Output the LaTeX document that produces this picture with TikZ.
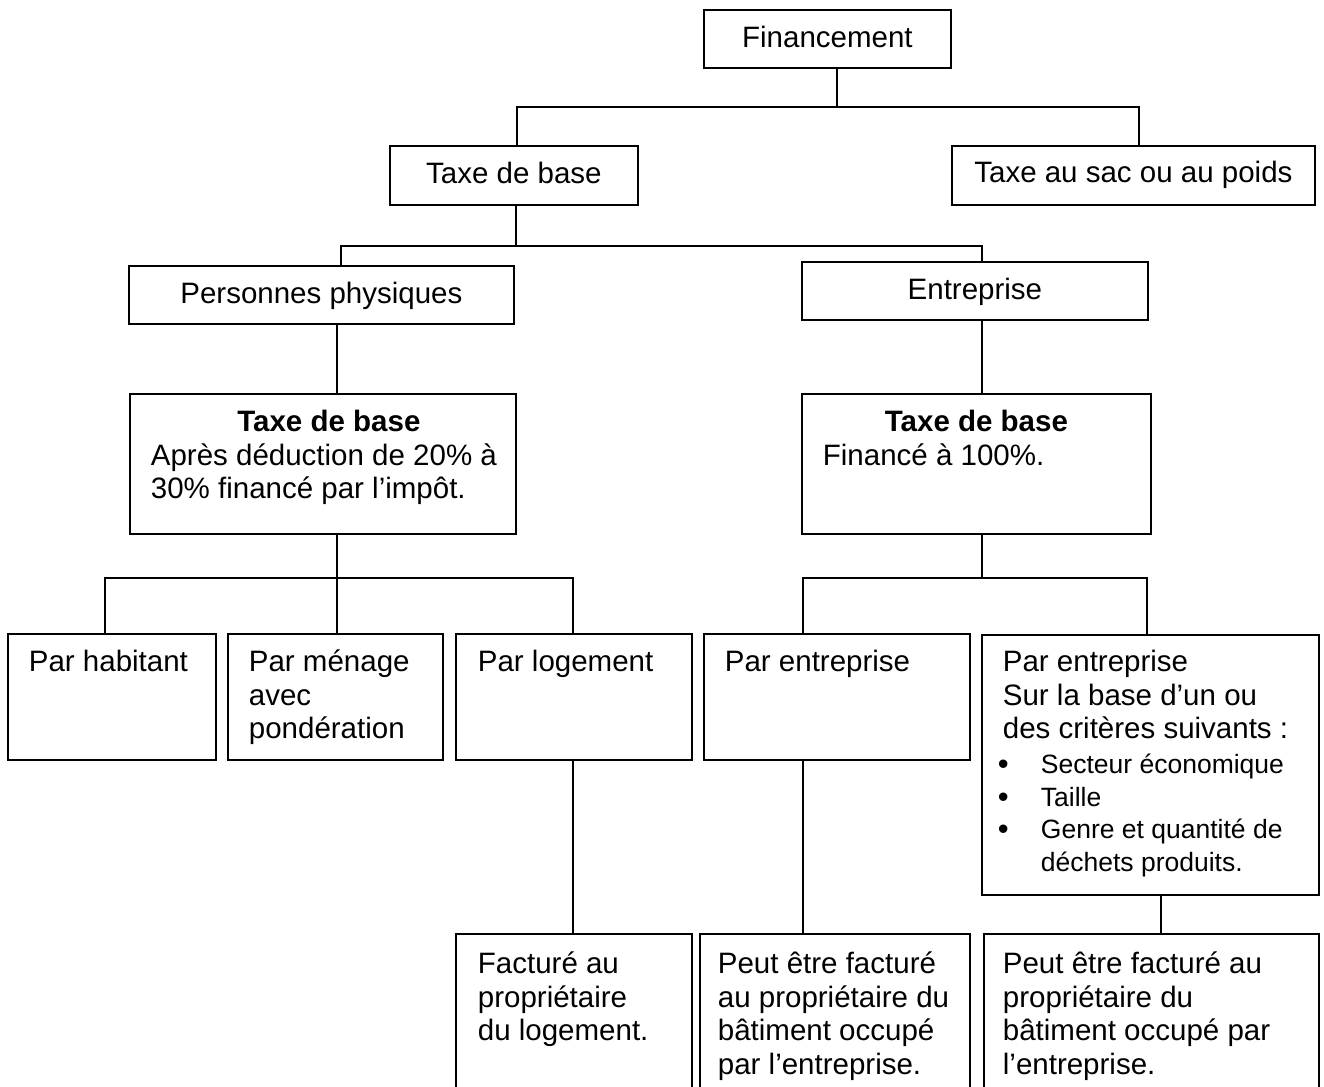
\documentclass[tikz,border=0pt]{standalone}
\usepackage{fontspec}
\setmainfont{Liberation Sans}
\newcommand\bxl[3][21pt]{\makebox[#2][l]{\hspace*{#1}\parbox[t]{900pt}{\raggedright #3}}}
\newcommand\bxc[2]{\makebox[#1]{#2}}
\newcommand\blt{\makebox[38pt][l]{\hspace*{-5pt}\raisebox{-1pt}{\fontsize{31}{31}\selectfont\textbullet}}}
\begin{document}
\begin{tikzpicture}[x=1pt,y=-1pt,font=\fontsize{29.5}{33.5}\selectfont,
  box/.style={draw,line width=1.8pt,inner sep=0pt,anchor=north west},
  conn/.style={line width=1.8pt}]
\useasboundingbox (0,0) rectangle (1324,1086);
\fill[white] (0,0) rectangle (1324,1086);
\clip (0,0) rectangle (1324,1086);
% boxes
\node[box,text height=38pt,text depth=20pt] (fin) at (703,9) {\bxc{247pt}{Financement}};
\node[box,text height=38pt,text depth=21pt] (t1) at (389,145) {\bxc{248pt}{Taxe de base}};
\node[box,text height=37pt,text depth=22pt] (tsac) at (951,145) {\bxc{363pt}{Taxe au sac ou au poids}};
\node[box,text height=38pt,text depth=20pt] (pp) at (128,265) {\bxc{385pt}{Personnes physiques}};
\node[box,text height=38pt,text depth=20pt] (ent) at (801,261) {\bxc{346pt}{Entreprise}};
\node[box,text height=38pt,text depth=102pt] (txl) at (129,393)
  {\makebox[386pt][l]{\parbox[t]{386pt}{\centering\bfseries\hspace*{12pt}Taxe de base\par
   \raggedright\mdseries\hspace*{21pt}Après déduction de 20\% à\\
   \hspace*{21pt}30\% financé par l’impôt.}}};
\node[box,text height=38pt,text depth=102pt] (txr) at (801,393)
  {\makebox[349pt][l]{\parbox[t]{349pt}{\centering\bfseries Taxe de base\par
   \raggedright\mdseries\hspace*{21pt}Financé à 100\%.}}};
\node[box,text height=38pt,text depth=88pt] (hab) at (7,633) {\bxl{208pt}{Par habitant}};
\node[box,text height=38pt,text depth=88pt] (men) at (227,633) {\bxl{215pt}{Par ménage\\avec\\pondération}};
\node[box,text height=38pt,text depth=88pt] (log) at (455,633) {\bxl[22pt]{236pt}{Par logement}};
\node[box,text height=38pt,text depth=88pt] (pe1) at (703,633) {\bxl{266pt}{Par entreprise}};
\node[box,text height=37pt,text depth=223pt] (pe2) at (981,634) {\bxl{337pt}{Par entreprise\\
  Sur la base d’un ou\\
  des critères suivants :\\[2.5pt]
  \fontsize{26.5}{32.5}\selectfont\blt Secteur économique\\
  \blt Taille\\
  \blt Genre et quantité de\\
  \hspace*{38pt}déchets produits.}};
\node[box,text height=40pt,text depth=170pt] (fac) at (455,933) {\bxl[22pt]{236pt}{Facturé au\\propriétaire\\du logement.}};
\node[box,text height=40pt,text depth=170pt] (peu) at (699,933) {\bxl[18pt]{270pt}{Peut être facturé\\au propriétaire du\\bâtiment occupé\\par l’entreprise.}};
\node[box,text height=40pt,text depth=170pt] (peu3) at (983,933) {\bxl[19pt]{335pt}{Peut être facturé au\\propriétaire du\\bâtiment occupé par\\l’entreprise.}};
% guides
\coordinate (vA) at (837,0);
\coordinate (vB) at (517,0);
\coordinate (vC) at (1139,0);
\coordinate (vD) at (516,0);
\coordinate (vE) at (341,0);
\coordinate (vF) at (982,0);
\coordinate (vG) at (337,0);
\coordinate (vH) at (105,0);
\coordinate (vI) at (573,0);
\coordinate (vJ) at (803,0);
\coordinate (vK) at (1147,0);
\coordinate (vM) at (1161,0);
\coordinate (hA) at (0,107);
\coordinate (hB) at (0,246);
\coordinate (hC) at (0,578);
% connectors
\draw[conn] (fin.south -| vA) -- (vA |- hA);
\draw[conn] (t1.north -| vB) |- (vC |- hA) -- (tsac.north -| vC);
\draw[conn] (t1.south -| vD) -- (vD |- hB);
\draw[conn] (pp.north -| vE) |- (vF |- hB) -- (ent.north -| vF);
\draw[conn] (pp.south -| vG) -- (txl.north -| vG);
\draw[conn] (ent.south -| vF) -- (txr.north -| vF);
\draw[conn] (txl.south -| vG) -- (men.north -| vG);
\draw[conn] (hab.north -| vH) |- (vI |- hC) -- (log.north -| vI);
\draw[conn] (txr.south -| vF) -- (vF |- hC);
\draw[conn] (pe1.north -| vJ) |- (vK |- hC) -- (pe2.north -| vK);
\draw[conn] (log.south -| vI) -- (fac.north -| vI);
\draw[conn] (pe1.south -| vJ) -- (peu.north -| vJ);
\draw[conn] (pe2.south -| vM) -- (peu3.north -| vM);
\end{tikzpicture}
\end{document}
